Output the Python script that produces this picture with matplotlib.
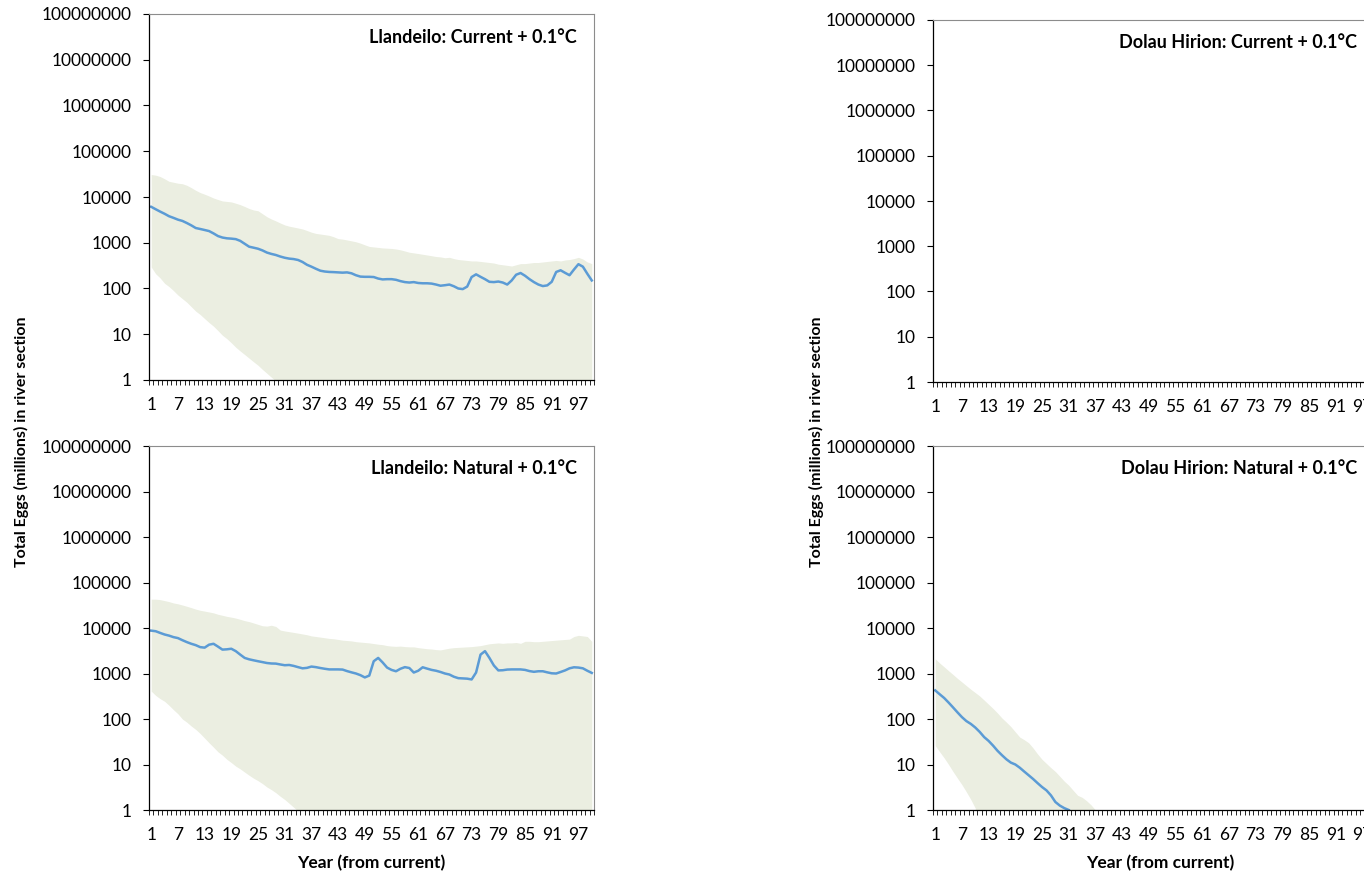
"""Egg abundance projections for Llandeilo and Dolau Hirion (+0.1 degC scenarios)."""
import matplotlib

matplotlib.use("Agg")
import matplotlib.pyplot as plt
import numpy as np
from matplotlib.ticker import FixedLocator, NullLocator

BAND, LINE, BORDER = "#EBEEE1", "#5B9BD5", "#8C8C8C"

YEARS = list(range(1, 101))
XTICKS = [1, 7, 13, 19, 25, 31, 37, 43, 49, 55, 61, 67, 73, 79, 85, 91, 97]
YTICKS = [1, 10, 100, 1000, 10000, 100000, 1000000, 10000000, 100000000]

# Llandeilo, current flows + 0.1 degC
ll_cur_upper = [31000, 30000, 28000, 25000, 22000, 21000, 20000, 19500, 18000, 16000,
                14000, 12500, 11500, 10500, 9500, 8800, 8200, 8000, 7800, 7300,
                6800, 6200, 5600, 5200, 5000, 4300, 3700, 3300, 3000, 2700,
                2450, 2300, 2200, 2100, 2000, 1850, 1700, 1600, 1550, 1500,
                1450, 1350, 1230, 1200, 1150, 1100, 1050, 980, 900, 830,
                810, 790, 770, 760, 750, 730, 700, 660, 620, 600,
                580, 560, 540, 520, 500, 490, 470, 480, 450, 430,
                420, 410, 400, 400, 390, 380, 370, 360, 340, 330,
                320, 310, 330, 350, 350, 360, 370, 370, 380, 390,
                400, 410, 400, 420, 430, 450, 480, 440, 380, 350]
ll_cur_median = [6100, 5400, 4800, 4300, 3800, 3500, 3200, 3000, 2700, 2400,
                 2100, 2000, 1900, 1800, 1600, 1400, 1300, 1250, 1230, 1200,
                 1100, 950, 820, 780, 740, 680, 610, 570, 540, 500,
                 470, 450, 440, 420, 380, 330, 300, 270, 245, 235,
                 230, 228, 225, 222, 225, 215, 195, 182, 180, 180,
                 178, 165, 158, 160, 160, 155, 145, 138, 135, 138,
                 132, 130, 130, 128, 122, 115, 118, 122, 112, 100,
                 97, 110, 178, 204, 180, 160, 140, 138, 142, 135,
                 122, 150, 200, 218, 190, 160, 138, 122, 113, 117,
                 140, 230, 250, 220, 195, 260, 340, 300, 210, 150]
ll_cur_lower = [295, 210, 170, 130, 110, 90, 72, 60, 50, 40,
                32, 27, 22, 18, 15, 12, 9.5, 8, 6.5, 5.2,
                4.3, 3.6, 3.0, 2.5, 2.1, 1.7, 1.4, 1.15, 0.95, 0.8] + [0] * 70

# Llandeilo, natural flows + 0.1 degC
ll_nat_upper = [43000, 43000, 42000, 40000, 38000, 35500, 34000, 32000, 30000, 28000,
                26000, 24500, 23500, 22500, 21500, 20000, 19000, 18000, 17300, 16500,
                15500, 14500, 13800, 12900, 12000, 11200, 11000, 11500, 10800, 9000,
                8600, 8300, 8000, 7700, 7400, 7100, 6700, 6500, 6300, 6100,
                5900, 5800, 5600, 5400, 5300, 5200, 5000, 4900, 4800, 4700,
                4550, 4400, 4300, 4100, 4000, 3950, 4000, 3900, 3850, 3850,
                3700, 3600, 3500, 3450, 3350, 3300, 3450, 3600, 3700, 3750,
                3800, 3850, 3900, 4000, 4100, 4300, 4500, 4600, 4700, 4600,
                4700, 4700, 4800, 4600, 5100, 5100, 5000, 5000, 5100, 5200,
                5300, 5400, 5500, 5600, 5700, 6500, 6900, 6700, 6500, 5100]
ll_nat_median = [8750, 8500, 7800, 7200, 6800, 6300, 6000, 5400, 4900, 4500,
                 4200, 3800, 3700, 4300, 4500, 3900, 3350, 3400, 3500, 3100,
                 2600, 2200, 2050, 1950, 1860, 1780, 1700, 1660, 1650, 1580,
                 1520, 1540, 1470, 1380, 1300, 1330, 1420, 1380, 1320, 1270,
                 1230, 1230, 1230, 1220, 1130, 1060, 1000, 920, 820, 900,
                 1860, 2200, 1750, 1350, 1200, 1120, 1270, 1380, 1320, 1050,
                 1150, 1370, 1280, 1200, 1150, 1080, 1000, 950, 850, 790,
                 780, 770, 740, 1050, 2600, 3100, 2200, 1500, 1170, 1180,
                 1220, 1230, 1230, 1230, 1200, 1130, 1090, 1120, 1120, 1060,
                 1010, 1000, 1080, 1170, 1300, 1370, 1350, 1300, 1150, 1030]
ll_nat_lower = [410, 330, 280, 245, 200, 160, 130, 100, 85, 70,
                59, 48, 38, 30, 24, 19, 16, 13, 11, 9.2,
                8.0, 6.8, 5.8, 5.0, 4.4, 3.8, 3.2, 2.8, 2.4, 2.0,
                1.7, 1.4, 1.15, 0.95, 0.8] + [0] * 65

# Dolau Hirion, current flows + 0.1 degC (population gone: nothing above 1)
dh_cur_upper = [0] * 100
dh_cur_median = [0] * 100
dh_cur_lower = [0] * 100

# Dolau Hirion, natural flows + 0.1 degC
dh_nat_upper = [2100, 1700, 1400, 1150, 950, 780, 650, 540, 450, 380,
                320, 260, 210, 170, 135, 105, 85, 68, 52, 40,
                35, 30, 23, 17, 13, 10.5, 8.5, 7.0, 5.5, 4.3,
                3.5, 2.7, 2.1, 1.9, 1.6, 1.3, 1.0] + [0] * 63
dh_nat_median = [425, 350, 290, 230, 180, 140, 110, 90, 78, 65,
                 52, 40, 33, 26, 20, 16, 13, 11, 10, 8.5,
                 7.0, 5.8, 4.8, 3.9, 3.2, 2.7, 2.1, 1.5, 1.25, 1.1,
                 1.0] + [0] * 69
dh_nat_lower = [26, 19, 14, 10, 7, 5, 3.6, 2.5, 1.7, 1.1] + [0] * 90

plt.rcParams.update({"font.family": "Lato", "font.size": 12.5, "text.color": "#000000"})


def _panel(ax, lower, median, upper, title, title_x):
    x = np.array(YEARS)
    lo = np.clip(np.array(lower, float), 1e-3, None)
    hi = np.clip(np.array(upper, float), 1e-3, None)
    med = np.array(median, float)
    med[med <= 0] = np.nan
    ax.fill_between(x, lo, hi, color=BAND, lw=0)
    ax.plot(x, med, color=LINE, lw=1.8, solid_joinstyle="round")
    ax.set_yscale("log")
    ax.set_ylim(1, 1e8)
    ax.set_xlim(0.5, 100.5)
    ax.yaxis.set_major_locator(FixedLocator(YTICKS))
    ax.yaxis.set_minor_locator(NullLocator())
    ax.set_yticklabels([str(v) for v in YTICKS])
    ax.set_xticks(XTICKS)
    ax.set_xticklabels([str(v) for v in XTICKS])
    ax.xaxis.set_minor_locator(FixedLocator(np.arange(0.5, 101, 1.0)))
    ax.tick_params(axis="y", which="major", direction="out", length=4.3, width=0.8, pad=8)
    ax.tick_params(axis="x", which="major", length=0, pad=12.5)
    ax.tick_params(axis="x", which="minor", direction="out", length=3.6, width=0.6)
    for s in ["top", "right"]:
        ax.spines[s].set_color(BORDER)
        ax.spines[s].set_linewidth(0.8)
    for s in ["left", "bottom"]:
        ax.spines[s].set_color("#000000")
        ax.spines[s].set_linewidth(0.9)
    ax.text(title_x, 0.937, title, transform=ax.transAxes, ha="right", va="center",
            fontweight="bold", fontsize=13)


def main():
    W, H = 1364, 872
    fig = plt.figure(figsize=(W / 100, H / 100), dpi=100)

    def box(x0, y0, x1, y1):
        return [x0 / W, 1 - y1 / H, (x1 - x0) / W, (y1 - y0) / H]

    ax1 = fig.add_axes(box(149, 14, 594, 380))
    ax2 = fig.add_axes(box(149, 446, 594, 810))
    ax3 = fig.add_axes(box(933, 20, 1378, 382))
    ax4 = fig.add_axes(box(933, 446, 1378, 810))

    _panel(ax1, ll_cur_lower, ll_cur_median, ll_cur_upper, "Llandeilo: Current + 0.1°C", 0.962)
    _panel(ax2, ll_nat_lower, ll_nat_median, ll_nat_upper, "Llandeilo: Natural + 0.1°C", 0.962)
    _panel(ax3, dh_cur_lower, dh_cur_median, dh_cur_upper, "Dolau Hirion: Current + 0.1°C", 0.953)
    _panel(ax4, dh_nat_lower, dh_nat_median, dh_nat_upper, "Dolau Hirion: Natural + 0.1°C", 0.953)

    ylab = "Total Eggs (millions) in river section"
    for xc in [21, 816]:
        fig.text(xc / W, 1 - 442 / H, ylab, rotation=90, ha="center", va="center",
                 fontweight="bold", fontsize=11.5)
    for xc in [371.5, 1160]:
        fig.text(xc / W, 1 - 863 / H, "Year (from current)", ha="center", va="center",
                 fontweight="bold", fontsize=12.5)

    fig.savefig("out.png", dpi=100)
    plt.close(fig)


if __name__ == "__main__":
    main()
